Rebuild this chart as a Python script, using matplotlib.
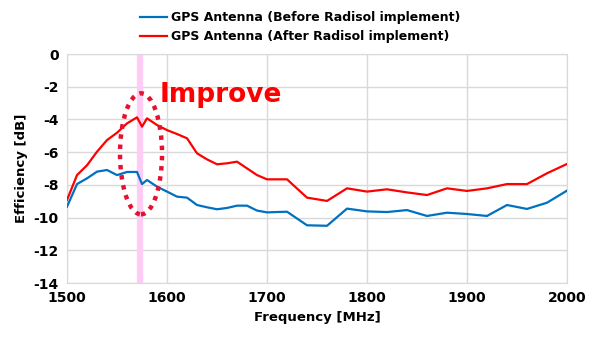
import matplotlib
matplotlib.use('Agg')
import matplotlib.pyplot as plt
from matplotlib.patches import Ellipse

plt.rcParams['font.family'] = ['DejaVu Sans']
plt.rcParams['axes.unicode_minus'] = False

# measured efficiency vs frequency
freq = [1500, 1510, 1520, 1530, 1540, 1550, 1560, 1570, 1575, 1580, 1590,
        1600, 1610, 1620, 1630, 1640, 1650, 1660, 1670, 1680, 1690, 1700,
        1720, 1740, 1760, 1780, 1800, 1820, 1840, 1860, 1880, 1900, 1920,
        1940, 1960, 1980, 2000]
before = [-9.33, -7.95, -7.60, -7.19, -7.09, -7.40, -7.21, -7.21, -7.95, -7.70, -8.11,
          -8.41, -8.72, -8.78, -9.23, -9.37, -9.49, -9.41, -9.27, -9.27, -9.57, -9.68,
          -9.64, -10.47, -10.50, -9.45, -9.62, -9.66, -9.54, -9.90, -9.70, -9.78, -9.90,
          -9.23, -9.47, -9.09, -8.35]
after = [-8.92, -7.40, -6.80, -5.97, -5.26, -4.81, -4.24, -3.87, -4.44, -3.93, -4.34,
         -4.65, -4.89, -5.15, -6.07, -6.44, -6.74, -6.68, -6.58, -6.99, -7.40, -7.66,
         -7.66, -8.78, -8.98, -8.21, -8.41, -8.27, -8.46, -8.62, -8.21, -8.37, -8.21,
         -7.95, -7.95, -7.29, -6.72]
gps_l1 = 1573
labels = ['GPS Antenna (Before Radisol implement)',
          'GPS Antenna (After Radisol implement)']

fig = plt.figure(figsize=(6, 3.4), dpi=100)
ax = fig.add_axes([0.1117, 0.1676, 0.8333, 0.6734])

ax.axvline(gps_l1, color='#FFCCF5', linewidth=4.5, zorder=1)
l1, = ax.plot(freq, before, color='#0070C0', linewidth=1.6, zorder=3)
l2, = ax.plot(freq, after, color='#FF0000', linewidth=1.6, zorder=3)

# dotted ring around the L1 band
ring = Ellipse((1574, -6.1), 42, 7.4, fill=False, edgecolor='#E8102E',
               linewidth=3.2, linestyle=(0, (1, 1.3)), zorder=4)
ax.add_patch(ring)
ax.text(1593, -2.5, 'Improve', color='#FF0000', fontsize=19,
        fontweight='bold', va='center', ha='left', zorder=5)

ax.set_xlim(1500, 2000)
ax.set_ylim(-14, 0)
ax.set_xticks(range(1500, 2001, 100))
ax.set_yticks(range(-14, 1, 2))
ax.grid(True, color='#D9D9D9', linewidth=1)
ax.set_axisbelow(True)
for s in ax.spines.values():
    s.set_color('#D9D9D9')
ax.tick_params(length=0, labelsize=10, pad=6)
for t in ax.get_xticklabels() + ax.get_yticklabels():
    t.set_fontweight('bold')

ax.set_xlabel('Frequency [MHz]', fontsize=9.5, fontweight='bold', labelpad=4)
ax.set_ylabel('Efficiency [dB]', fontsize=9.5, fontweight='bold', labelpad=4)

fig.legend([l1, l2], labels, loc='upper center', bbox_to_anchor=(0.5, 1.0),
           ncol=1, frameon=False, handlelength=2.2, handletextpad=0.3,
           labelspacing=0.45, prop={'size': 9, 'weight': 'bold'})

fig.savefig('out.png', dpi=100)
